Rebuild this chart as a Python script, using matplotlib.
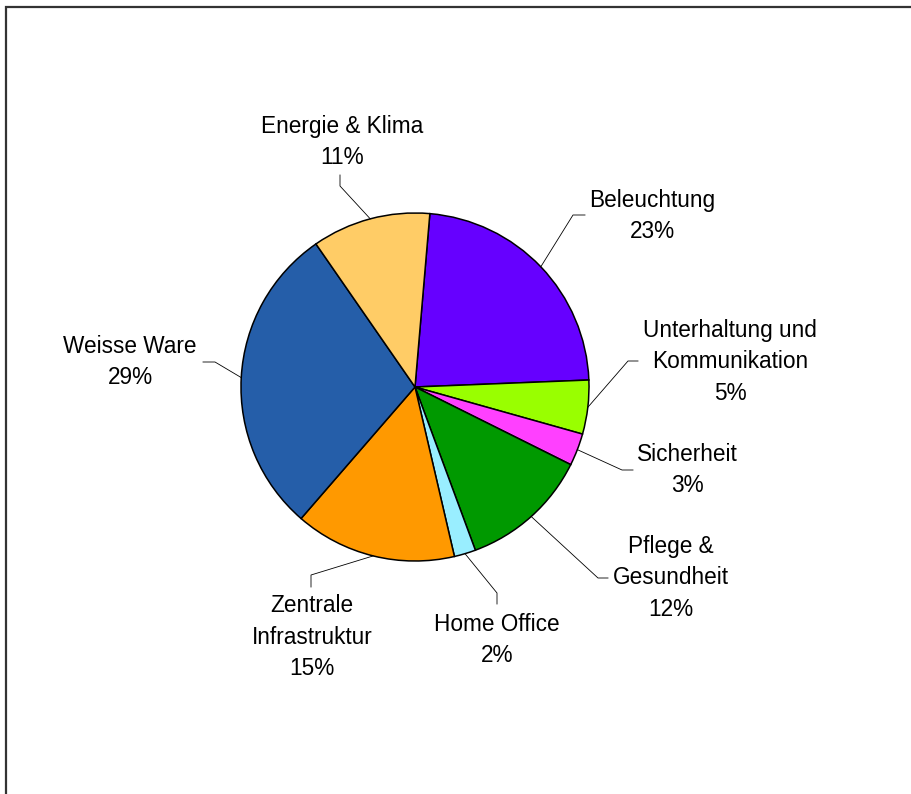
import numpy as np
import matplotlib
matplotlib.use("Agg")
import matplotlib.pyplot as plt
from matplotlib.patches import Rectangle

# data
categories = ["Beleuchtung", "Unterhaltung und\nKommunikation", "Sicherheit",
              "Pflege &\nGesundheit", "Home Office", "Zentrale\nInfrastruktur",
              "Weisse Ware", "Energie & Klima"]
shares = [23, 5, 3, 12, 2, 15, 29, 11]
colors = ["#6600FF", "#99FF00", "#FF40FF", "#009900", "#99EEFF", "#FF9900",
          "#255EA9", "#FFCC66"]

# layout (pixel positions, origin top-left)
W, H = 911, 794
center_px = (415, 387)
radius_px = 174
label_px = [(652, 216), (730, 362), (687, 470), (671, 578),
            (497, 640), (312, 637), (130, 362), (342, 142)]
elbow_px = [(573, 215), (628, 361), (622, 470), (598, 578),
            (497, 593), (311, 575), (215, 362), (340, 186)]
end_px = [(585, 215), (638, 361), (633, 470), (608, 578),
          (497, 604), (311, 587), (203, 362), (340, 175)]

plt.rcParams['font.family'] = ['Liberation Sans', 'DejaVu Sans']

fig = plt.figure(figsize=(W / 100, H / 100), dpi=100)
ax = fig.add_axes([0, 0, 1, 1])

cx, cy = center_px[0], H - center_px[1]
wedges, _ = ax.pie(shares, colors=colors, startangle=85.1, counterclock=False,
                   center=(cx, cy), radius=radius_px, frame=True,
                   wedgeprops=dict(edgecolor='black', linewidth=1.1))
ax.set_xlim(0, W)
ax.set_ylim(0, H)
ax.set_aspect('equal')
ax.axis('off')

for w, lab, share, lp, ep, np_ in zip(wedges, categories, shares, label_px, elbow_px, end_px):
    mid = np.deg2rad((w.theta1 + w.theta2) / 2)
    sx = cx + radius_px * np.cos(mid)
    sy = cy + radius_px * np.sin(mid)
    ax.plot([sx, ep[0], np_[0]], [sy, H - ep[1], H - np_[1]],
            color='black', linewidth=0.6)
    ax.text(lp[0], H - lp[1], f"{lab}\n{share}%", ha='center', va='center',
            fontsize=16.3, linespacing=1.45, color='black')

# chart border (cut off at right and bottom like the original)
fig.patches.append(Rectangle((5.5 / W, -0.05), 1.1, 1 - 6.5 / H + 0.05,
                             transform=fig.transFigure, fill=False,
                             edgecolor='#333333', linewidth=1.6))

fig.savefig("out.png", dpi=100, facecolor='white')
